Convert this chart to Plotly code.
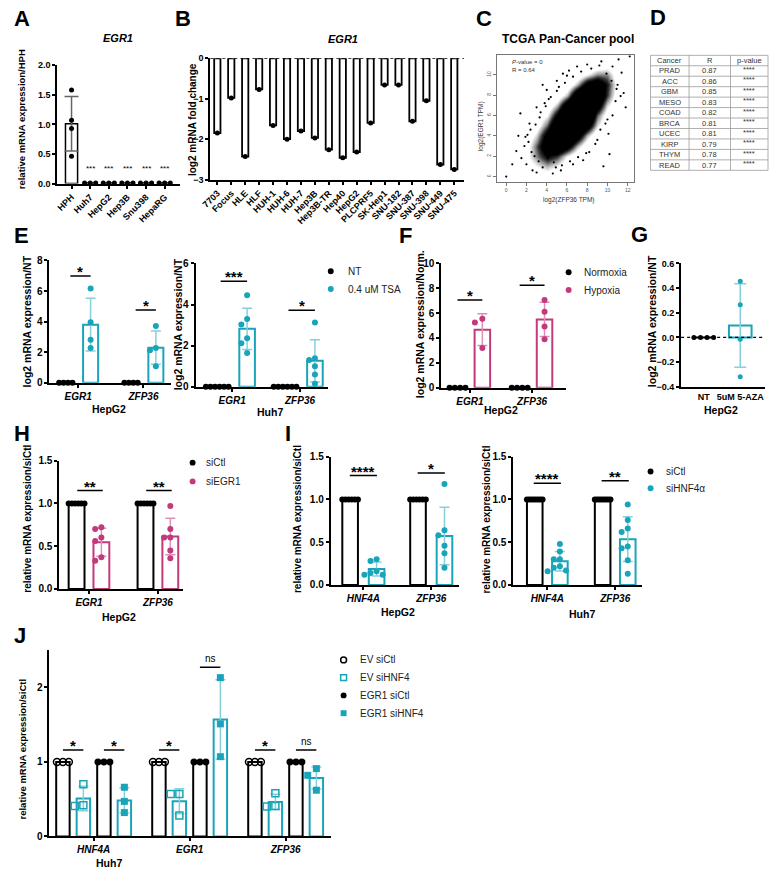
import numpy as np
import plotly.graph_objects as go

W, H = 769, 875
FONT = "Arial, Liberation Sans, Helvetica, sans-serif"
TEAL, TEAL_LT = "#19A4B9", "#86D0DB"
PINK, PINK_LT = "#C23A7C", "#DC92B6"

# ---------------- values ----------------
# A: EGR1 relative to HPH
a_lines = ["HPH", "Huh7", "HepG2", "Hep3B", "Snu398", "HepaRG"]
a_hph = [1.58, 1.07, 0.93, 0.46]
a_hcc = [0.01, 0.01, 0.01]

# B: EGR1 log2 fold change in HCC lines
b_lines = ["7703", "Focus", "HLE", "HLF", "HUH-1", "HUH-6", "HUH-7", "Hep3B", "Hep3B-TR",
           "Hep40", "HepG2", "PLCPRF5", "SK-Hep1", "SNU-182", "SNU-387", "SNU-398",
           "SNU-449", "SNU-475"]
b_fold = [-1.85, -0.98, -2.43, -0.77, -1.66, -2.0, -1.8, -1.97, -2.26, -2.46, -2.32, -1.6,
          -0.66, -0.66, -1.56, -1.05, -2.63, -2.75]

# C: TCGA pan-cancer cloud (point density per 1x1 cell, rows = log2 EGR1 0..11)
c_x = list(range(13))
c_y = list(range(12))
c_density = [
    [0, 0, 0, 0.05, 0.1, 0.05, 0, 0, 0, 0, 0, 0, 0],
    [0, 0, 0.1, 0.2, 0.3, 0.2, 0.05, 0, 0, 0, 0, 0, 0],
    [0, 0.05, 0.15, 0.35, 0.55, 0.45, 0.2, 0.05, 0, 0, 0, 0, 0],
    [0, 0, 0.1, 0.4, 0.75, 0.85, 0.65, 0.3, 0.05, 0, 0, 0, 0],
    [0, 0, 0.05, 0.25, 0.65, 1, 1, 0.7, 0.3, 0.05, 0, 0, 0],
    [0, 0, 0, 0.1, 0.4, 0.85, 1, 1, 0.7, 0.25, 0.05, 0, 0],
    [0, 0, 0, 0.05, 0.2, 0.6, 1, 1, 1, 0.4, 0.1, 0, 0],
    [0, 0, 0, 0, 0.05, 0.3, 0.75, 1, 1, 0.7, 0.25, 0.05, 0],
    [0, 0, 0, 0, 0, 0.05, 0.3, 0.8, 1, 0.9, 0.45, 0.1, 0],
    [0, 0, 0, 0, 0, 0, 0.05, 0.3, 0.65, 0.75, 0.5, 0.15, 0],
    [0, 0, 0, 0, 0, 0, 0, 0.05, 0.2, 0.35, 0.35, 0.1, 0],
    [0, 0, 0, 0, 0, 0, 0, 0, 0, 0.05, 0.1, 0.05, 0],
]
c_out_x = [0.0, 1.4, 10.2, 10.1, 11.1, 11.8, 1.0, 1.5, 2.0, 2.2, 2.6, 1.8, 3.0, 2.4, 3.3,
           3.0, 4.2, 4.0, 5.0, 5.6, 6.2, 7.0, 8.0, 9.4, 10.5, 11.4, 11.0, 11.6, 10.8, 10.5,
           9.8, 9.0, 8.2, 7.6, 6.6, 5.4, 4.6, 3.6, 1.2, 2.8, 0.6, 12.2, 3.6, 5.2, 1.9, 9.6,
           2.9, 3.4, 3.9, 4.4, 5.0, 5.8, 6.6, 7.4, 8.4, 9.2, 9.9, 10.4, 10.9, 8.8, 7.9,
           7.1, 6.3, 5.5, 4.7, 4.1, 3.2, 2.5, 2.1, 6.0, 9.3, 10.0, 11.3, 3.8, 4.9, 2.3]
c_out_y = [0.0, 6.2, 2.2, 4.2, 11.5, 6.8, 2.5, 1.8, 1.2, 3.4, 0.6, 3.0, 0.4, 4.6, 5.8,
           6.8, 7.6, 8.5, 9.4, 10.1, 10.4, 10.8, 11.0, 11.3, 10.8, 10.2, 9.0, 8.2, 7.4, 6.0,
           5.2, 3.6, 2.4, 1.6, 1.2, 0.6, 0.3, 0.9, 4.0, 2.0, 1.2, 11.8, 9.0, 8.8, 3.9, 1.0,
           5.1, 6.3, 6.9, 7.8, 8.4, 9.2, 9.8, 10.3, 10.6, 10.9, 10.1, 9.4, 8.6, 3.2, 2.3,
           1.9, 1.5, 1.1, 1.4, 1.8, 1.5, 2.4, 4.1, 9.9, 4.6, 5.6, 7.9, 7.2, 0.9, 5.2]

# D: top correlations
d_header = ["Cancer", "R", "p-value"]
d_cancer = ["PRAD", "ACC", "GBM", "MESO", "COAD", "BRCA", "UCEC", "KIRP", "THYM", "READ"]
d_r = ["0.87", "0.86", "0.85", "0.83", "0.82", "0.81", "0.81", "0.79", "0.78", "0.77"]
d_p = ["****"] * 10

# E: TSA treatment
e_genes = ["EGR1", "ZFP36"]
e_hepg2_nt = [[0, 0, 0, 0], [0, 0, 0, 0]]
e_hepg2_tsa = [[6.16, 3.96, 2.81, 2.27], [3.72, 2.27, 2.12, 1.08]]
e_huh7_nt = [[0, 0, 0, 0, 0, 0], [0, 0, 0, 0, 0, 0]]
e_huh7_tsa = [[4.45, 3.29, 3.03, 2.36, 2.12, 1.64], [3.13, 1.38, 1.3, 1.0, 0.6, 0.14]]

# F: hypoxia
f_norm = [[0, 0, 0, 0], [0, 0, 0, 0]]
f_hyp = [[5.55, 5.25, 3.2], [7.06, 6.11, 4.92, 3.89]]

# G: 5-AZA
g_groups = ["NT", "5uM 5-AZA"]
g_nt = [0, 0, 0, 0]
g_aza = [0.456, 0.264, -0.016, -0.32]

# H: siEGR1
h_ctl = [[1] * 6, [1] * 6]
h_si = [[0.70, 0.72, 0.60, 0.56, 0.37, 0.33], [0.97, 0.70, 0.60, 0.60, 0.45, 0.36]]

# I: siHNF4a
i_genes = ["HNF4A", "ZFP36"]
i_hepg2_ctl = [[1] * 6, [1] * 6]
i_hepg2_si = [[0.30, 0.28, 0.16, 0.14, 0.12, 0.12], [1.18, 0.64, 0.58, 0.46, 0.37, 0.20]]
i_huh7_ctl = [[1] * 8, [1] * 8]
i_huh7_si = [[0.48, 0.39, 0.30, 0.30, 0.22, 0.20, 0.17, 0.16],
             [0.94, 0.76, 0.66, 0.62, 0.45, 0.43, 0.29, 0.13]]

# J: EGR1 rescue in Huh7
j_genes = ["HNF4A", "EGR1", "ZFP36"]
j_ev_ctl = [[1, 1, 1], [1, 1, 1], [1, 1, 1]]
j_ev_si = [[0.70, 0.41, 0.42], [0.57, 0.57, 0.28], [0.58, 0.40, 0.41]]
j_egr1_ctl = [[1, 1, 1], [1, 1, 1], [1, 1, 1]]
j_egr1_si = [[0.66, 0.47, 0.32], [2.13, 1.51, 1.07], [0.91, 0.82, 0.62]]

fig = go.Figure()


def ref(n):
    return ("x" if n == 1 else f"x{n}"), ("y" if n == 1 else f"y{n}")


def bold(size, italic=False):
    f = dict(family=FONT, size=size, color="black", weight=700)
    if italic:
        f["style"] = "italic"
    return f


def set_axes(n, xpx, ypx, xrange, yrange, xkw=None, ykw=None):
    base = dict(showline=True, linecolor="black", linewidth=2, ticks="outside", ticklen=3,
                tickwidth=2, tickcolor="black", showgrid=False, zeroline=False,
                fixedrange=True, tickfont=bold(10))
    xr, yr = ref(n)
    xa = dict(base, domain=[xpx[0] / W, xpx[1] / W], range=xrange, anchor=yr)
    ya = dict(base, domain=[1 - ypx[1] / H, 1 - ypx[0] / H], range=yrange, anchor=xr)
    xa.update(xkw or {})
    ya.update(ykw or {})
    fig.update_layout(**{("xaxis" if n == 1 else f"xaxis{n}"): xa,
                         ("yaxis" if n == 1 else f"yaxis{n}"): ya})


def spread(vals, step, vstep, thr):
    # GraphPad-like scatter: equal values in a row, close values pushed sideways
    vals = np.asarray(vals, float)
    n = len(vals)
    if np.ptp(vals) == 0:
        return (np.arange(n) - (n - 1) / 2) * step
    offs = np.zeros(n)
    done = []
    for i in np.argsort(-vals):
        near = [offs[j] for j in done if abs(vals[j] - vals[i]) < thr]
        for k in (0, -1, 1, -2, 2, -3, 3):
            if all(abs(k * vstep - o) > 1e-9 for o in near):
                offs[i] = k * vstep
                break
        done.append(i)
    return offs


def dots_bar(n, pos, vals, color, err, w, step, vstep, thr, size=6, symbol="circle", lw=2,
             cap=5):
    xr, yr = ref(n)
    vals = np.asarray(vals, float)
    mean = vals.mean()
    sd = vals.std(ddof=1) if len(vals) > 1 else 0.0
    fig.add_trace(go.Bar(x=[pos], y=[mean], width=w, xaxis=xr, yaxis=yr,
                         marker=dict(color="white", line=dict(color=color, width=lw)),
                         error_y=dict(type="data", array=[sd], visible=bool(sd > 0),
                                      color=err, thickness=1.5, width=cap),
                         cliponaxis=False, showlegend=False, hoverinfo="skip"))
    is_open = symbol.endswith("open")
    fig.add_trace(go.Scatter(x=pos + spread(vals, step, vstep, thr), y=vals, mode="markers",
                             xaxis=xr, yaxis=yr, cliponaxis=False, showlegend=False,
                             hoverinfo="skip",
                             marker=dict(symbol=symbol, size=size, color=color,
                                         line=dict(color=color, width=1.5 if is_open else 0))))


def txt(x, y, text, size=10, xanchor="center", weight=400, italic=False, angle=0, color="black"):
    f = dict(family=FONT, size=size, color=color, weight=weight)
    if italic:
        f["style"] = "italic"
    fig.add_annotation(xref="paper", yref="paper", x=x / W, y=1 - y / H, text=text,
                       showarrow=False, xanchor=xanchor, yanchor="middle", textangle=angle,
                       font=f)


def hline_px(x0, x1, y, color, width):
    fig.add_shape(type="line", xref="paper", yref="paper", x0=x0 / W, x1=x1 / W,
                  y0=1 - y / H, y1=1 - y / H, line=dict(color=color, width=width))


def vline_px(x, y0, y1, color, width):
    fig.add_shape(type="line", xref="paper", yref="paper", x0=x / W, x1=x / W,
                  y0=1 - y0 / H, y1=1 - y1 / H, line=dict(color=color, width=width))


def sig(n, x0, x1, y, text):
    xr, yr = ref(n)
    fig.add_shape(type="line", xref=xr, yref=yr, x0=x0, x1=x1, y0=y, y1=y,
                  line=dict(color="black", width=1.5))
    if text == "ns":
        font, shift = dict(family=FONT, size=10, color="black"), 1
    else:
        font, shift = bold(15), -6
    fig.add_annotation(xref=xr, yref=yr, x=(x0 + x1) / 2, y=y, text=text, showarrow=False,
                       yanchor="bottom", yshift=shift, font=font)


def legend_item(cx, cy, label, color, kind="circle", filled=True, size=6, dx=14):
    r = size / 2
    fig.add_shape(type=kind, xref="paper", yref="paper",
                  x0=(cx - r) / W, x1=(cx + r) / W, y0=1 - (cy + r) / H, y1=1 - (cy - r) / H,
                  fillcolor=color if filled else "white",
                  line=dict(color=color, width=0 if filled else 1.5))
    txt(cx + dx, cy, label, size=10, xanchor="left", color="#222")


# ---------------- A ----------------
set_axes(1, (48, 172), (60, 180), [-0.76, 5.81], [0, 2.0],
         xkw=dict(tickvals=list(range(6)), ticktext=a_lines, tickangle=-45, tickfont=bold(9)),
         ykw=dict(tickvals=[0, 0.5, 1, 1.5, 2], tickformat=".1f", tickfont=bold(9)))
for i, pts in enumerate([a_hph] + [a_hcc] * 5):
    dots_bar(1, i, pts, "black", "#666", 0.65, 0.3, 0.3, 0.1, size=5, lw=1.5, cap=7)
    if i:
        fig.add_annotation(xref="x", yref="y", x=i, y=0.26, text="***", showarrow=False,
                           font=dict(family=FONT, size=8, color="black"))
txt(109, 32, "EGR1", size=11, weight=700, italic=True)
txt(12, 115, "relative mRNA expression/HPH", size=9.5, weight=700, angle=-90)

# ---------------- B ----------------
set_axes(2, (203, 460), (53, 176), [-0.5, 17.7], [-3, 0],
         xkw=dict(tickvals=list(range(18)), ticktext=b_lines, tickangle=-45, tickfont=bold(9)),
         ykw=dict(tickvals=[0, -1, -2, -3], tickfont=bold(9)))
for i, v in enumerate(b_fold):
    dots_bar(2, i, [v], "black", "black", 0.45, 0, 0, 0.1, size=5, lw=1.8)
fig.add_shape(type="line", xref="x2 domain", yref="y2", x0=0, x1=1, y0=0, y1=0,
              line=dict(color="black", width=1.5, dash="dot"))
txt(337, 33, "EGR1", size=11, weight=700, italic=True)
txt(185, 115, "log2 mRNA fold change", size=10, weight=700, angle=-90)

# ---------------- C ----------------
c_ax = dict(showline=True, mirror=True, linecolor="#777", linewidth=1, ticks="outside",
            ticklen=3, tickwidth=1, tickcolor="#777", tickfont=dict(family=FONT, size=5, color="#555"))
set_axes(3, (493, 632), (50, 178), [-0.95, 12.6], [-0.49, 11.9],
         xkw=dict(c_ax, tickvals=[0, 2, 4, 6, 8, 10, 12]),
         ykw=dict(c_ax, tickvals=[0, 2, 4, 6, 8, 10], tickangle=-90))
fig.add_trace(go.Heatmap(x=c_x, y=c_y, z=c_density, zmin=0, zmax=1, zsmooth="best",
                         colorscale=[[0, "white"], [0.2, "white"], [0.32, "#a8a8a8"],
                                     [0.45, "#303030"], [0.55, "black"], [1, "black"]],
                         showscale=False, xaxis="x3", yaxis="y3", hoverinfo="skip"))
fig.add_trace(go.Scatter(x=c_out_x, y=c_out_y, mode="markers", xaxis="x3", yaxis="y3",
                         marker=dict(color="black", size=2.2), showlegend=False,
                         hoverinfo="skip"))
txt(565, 33, "TCGA Pan-Cancer pool", size=12, weight=700)
txt(507, 57, "<i>P</i>-value = 0", size=6, xanchor="left", color="#333")
txt(507, 65, "R = 0.64", size=6, xanchor="left", color="#333")
txt(478, 122, "log2(EGR1 TPM)", size=6.5, angle=-90, color="#333")
txt(566, 197, "log2(ZFP36 TPM)", size=6.5, color="#333")

# ---------------- D (table drawn as text + rules) ----------------
col_edges = [649, 688, 730, 768]
row_h = 10.6
top = 50
rows = [d_header] + [list(r) for r in zip(d_cancer, d_r, d_p)]
for k in range(len(rows) + 1):
    hline_px(col_edges[0], col_edges[-1], top + k * row_h, "#9a9a9a", 0.8)
for xe in col_edges:
    vline_px(xe, top, top + len(rows) * row_h, "#9a9a9a", 0.8)
for r, row in enumerate(rows):
    for c, val in enumerate(row):
        cx = (col_edges[c] + col_edges[c + 1]) / 2
        cy = top + (r + 0.5) * row_h + (-1.5 if (c == 2 and r > 0) else 0)
        txt(cx, cy, val, size=7.5, color="#333")

# ---------------- E ----------------
gene_ticks = lambda genes: dict(tickvals=list(range(len(genes))), ticktext=genes,
                                tickfont=bold(10, italic=True))
set_axes(4, (40, 163), (258, 382), [-0.44, 1.42], [0, 8], xkw=gene_ticks(e_genes),
         ykw=dict(tickvals=[0, 2, 4, 6, 8]))
for i in range(2):
    dots_bar(4, i - 0.19, e_hepg2_nt[i], "black", "black", 0.23, 0.068, 0.09, 0.39)
    dots_bar(4, i + 0.19, e_hepg2_tsa[i], TEAL, TEAL_LT, 0.23, 0.068, 0.09, 0.39)
sig(4, -0.12, 0.19, 6.98, "*")
sig(4, 0.88, 1.19, 4.76, "*")
txt(17, 320, "log2 mRNA expression/NT", size=10.5, weight=700, angle=-90)
txt(100, 409, "HepG2", size=10.5, weight=700)

set_axes(5, (188, 322), (261, 386), [-0.54, 1.41], [0, 6], xkw=gene_ticks(e_genes),
         ykw=dict(tickvals=[0, 2, 4, 6]))
for i in range(2):
    dots_bar(5, i - 0.22, e_huh7_nt[i], "black", "black", 0.23, 0.067, 0.085, 0.29)
    dots_bar(5, i + 0.22, e_huh7_tsa[i], TEAL, TEAL_LT, 0.23, 0.067, 0.085, 0.29)
sig(5, -0.17, 0.22, 5.13, "***")
sig(5, 0.83, 1.22, 3.72, "*")
txt(170, 323, "log2 mRNA expression/NT", size=10.5, weight=700, angle=-90)
txt(263, 412, "Huh7", size=10.5, weight=700)
legend_item(325, 269, "NT", "black", dx=15)
legend_item(325, 287, "0.4 uM TSA", TEAL, dx=15)

# ---------------- F ----------------
set_axes(6, (437, 563), (261, 387), [-0.46, 1.54], [0, 10], xkw=gene_ticks(e_genes),
         ykw=dict(tickvals=[0, 2, 4, 6, 8, 10]))
for i in range(2):
    dots_bar(6, i - 0.2, f_norm[i], "black", "black", 0.25, 0.085, 0.12, 0.5)
    dots_bar(6, i + 0.2, f_hyp[i], PINK, PINK_LT, 0.25, 0.085, 0.12, 0.5)
sig(6, -0.2, 0.2, 7.06, "*")
sig(6, 0.8, 1.2, 8.25, "*")
txt(415, 323, "log2 mRNA expression/Norm.", size=10.5, weight=700, angle=-90)
txt(497, 410, "HepG2", size=10.5, weight=700)
legend_item(566, 270, "Normoxia", "black", dx=14)
legend_item(566, 288, "Hypoxia", PINK, dx=14)

# ---------------- G ----------------
set_axes(7, (680, 765), (261, 386), [-0.62, 1.68], [-0.4, 0.6],
         xkw=dict(tickvals=[0, 1], ticktext=g_groups, ticks="", tickfont=bold(9)),
         ykw=dict(tickvals=[-0.4, -0.2, 0, 0.2, 0.4, 0.6], tickformat=".1f", tickfont=bold(9)))
fig.add_shape(type="line", xref="x7 domain", yref="y7", x0=0, x1=1, y0=0, y1=0,
              line=dict(color="black", width=1.2, dash="dot"))
dots_bar(7, 0, g_nt, "black", "black", 0.62, 0.18, 0.2, 0.05, size=5)
dots_bar(7, 1, g_aza, TEAL, TEAL_LT, 0.62, 0.18, 0.2, 0.05, size=5, cap=6)
txt(650, 320, "log2 mRNA expression/NT", size=10.5, weight=700, angle=-90)
txt(720, 410, "HepG2", size=10.5, weight=700)

# ---------------- H ----------------
set_axes(8, (50, 175), (461, 591), [-0.43, 1.36], [0, 1.5], xkw=gene_ticks(e_genes),
         ykw=dict(tickvals=[0, 0.5, 1, 1.5], tickformat=".1f"))
for i in range(2):
    dots_bar(8, i - 0.18, h_ctl[i], "black", "black", 0.23, 0.046, 0.09, 0.07)
    dots_bar(8, i + 0.18, h_si[i], PINK, PINK_LT, 0.23, 0.046, 0.09, 0.07)
    sig(8, i - 0.17, i + 0.2, 1.15, "**")
txt(18, 520, "relative mRNA expression/siCtl", size=10, weight=700, angle=-90)
txt(110, 620, "HepG2", size=10.5, weight=700)
legend_item(185, 463, "siCtl", "black", dx=12)
legend_item(185, 482, "siEGR1", PINK, dx=12)

# ---------------- I ----------------
set_axes(9, (325, 455), (457, 587), [-0.48, 1.41], [0, 1.5], xkw=gene_ticks(i_genes),
         ykw=dict(tickvals=[0, 0.5, 1, 1.5], tickformat=".1f"))
for i in range(2):
    dots_bar(9, i - 0.195, i_hepg2_ctl[i], "black", "black", 0.23, 0.046, 0.09, 0.07)
    dots_bar(9, i + 0.195, i_hepg2_si[i], TEAL, TEAL_LT, 0.23, 0.046, 0.09, 0.07)
sig(9, -0.2, 0.2, 1.28, "****")
sig(9, 0.8, 1.2, 1.31, "*")
txt(292, 520, "relative mRNA expression/siCtl", size=10, weight=700, angle=-90)
txt(393, 614, "HepG2", size=10.5, weight=700)

set_axes(10, (510, 640), (457, 587), [-0.5, 1.39], [0, 1.5], xkw=gene_ticks(i_genes),
         ykw=dict(tickvals=[0, 0.5, 1, 1.5], tickformat=".1f"))
for i in range(2):
    dots_bar(10, i - 0.185, i_huh7_ctl[i], "black", "black", 0.23, 0.033, 0.09, 0.07)
    dots_bar(10, i + 0.185, i_huh7_si[i], TEAL, TEAL_LT, 0.23, 0.033, 0.09, 0.07)
sig(10, -0.2, 0.2, 1.19, "****")
sig(10, 0.8, 1.2, 1.22, "**")
txt(483, 521, "relative mRNA expression/siCtl", size=10, weight=700, angle=-90)
txt(580, 616, "Huh7", size=10.5, weight=700)
legend_item(649, 472, "siCtl", "black", dx=14)
legend_item(649, 489, "siHNF4α", TEAL, dx=14)

# ---------------- J ----------------
set_axes(11, (40, 325), (653, 842), [-0.46, 2.47], [0, 2.5], xkw=gene_ticks(j_genes),
         ykw=dict(tickvals=[0, 1, 2]))
j_sets = [(j_ev_ctl, "black", "black", "circle-open", -0.32),
          (j_ev_si, TEAL, TEAL_LT, "square-open", -0.107),
          (j_egr1_ctl, "black", "black", "circle", 0.107),
          (j_egr1_si, TEAL, TEAL_LT, "square", 0.32)]
for i in range(3):
    for vals, col, err, sym, off in j_sets:
        dots_bar(11, i + off, vals[i], col, err, 0.14, 0.062, 0.09, 0.1, size=7, symbol=sym)
    sig(11, i - 0.32, i - 0.107, 1.16, "*")
sig(11, 0.107, 0.32, 1.16, "*")
sig(11, 1.107, 1.32, 2.27, "ns")
sig(11, 2.107, 2.32, 1.16, "ns")
txt(13, 753, "relative mRNA expression/siCtl", size=9.5, weight=700, angle=-90)
txt(100, 869, "Huh7", size=10.5, weight=700)
legend_item(338, 663, "EV siCtl", "black", "circle", False, dx=15)
legend_item(338, 681, "EV siHNF4", TEAL, "rect", False, dx=15)
legend_item(338, 699, "EGR1 siCtl", "black", "circle", True, dx=15)
legend_item(338, 717, "EGR1 siHNF4", TEAL, "rect", True, dx=15)

# ---------------- panel letters ----------------
for letter, x, y in [("A", 2, 13), ("B", 165, 13), ("C", 470, 13), ("D", 646, 12),
                     ("E", 2, 233), ("F", 392, 233), ("G", 627, 232), ("H", 2, 433),
                     ("I", 277, 433), ("J", 2, 638)]:
    txt(x, y, letter, size=22, xanchor="left", weight=700)

fig.update_layout(width=W, height=H, margin=dict(l=0, r=0, t=0, b=0), barmode="overlay",
                  plot_bgcolor="white", paper_bgcolor="white", showlegend=False,
                  font=dict(family=FONT, color="black"))
fig.write_html("out.html", config={"displayModeBar": False},
               post_script="document.body.style.margin='0';")
